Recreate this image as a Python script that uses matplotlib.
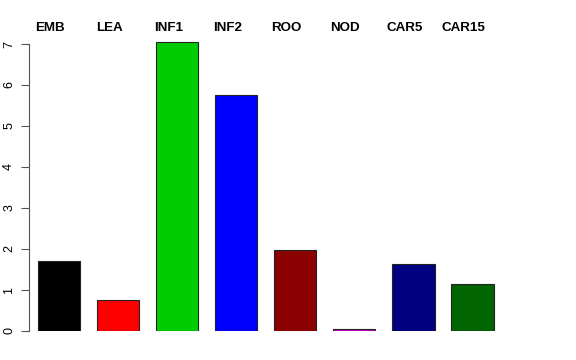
import matplotlib
matplotlib.use("Agg")
import matplotlib.pyplot as plt
import numpy as np

labels = ["EMB", "LEA", "INF1", "INF2", "ROO", "NOD", "CAR5", "CAR15"]
values = [1.71, 0.75, 7.04, 5.76, 1.97, 0.06, 1.64, 1.14]
colors = ["#000000", "#FF0000", "#00CD00", "#0000FF", "#8B0000", "#CD00CD", "#000080", "#006400"]

W, H = 576, 360
fig = plt.figure(figsize=(W / 100, H / 100), dpi=100)

# pixel layout (R barplot look)
px_left, px_right, px_bottom, px_top = 29, 547, 331, 30
ax = fig.add_axes([px_left / W, (H - px_bottom) / H,
                   (px_right - px_left) / W, (px_bottom - px_top) / H])

x = np.arange(len(values)) * 1.4 + 0.9
ax.bar(x, values, width=1.0, color=colors, edgecolor="#222222", linewidth=0.8)

# x mapping: pixel 21 -> 0, 42.2 px per unit
ppu = 42.2
ax.set_xlim((px_left - 21) / ppu, (px_right - 21) / ppu)
ax.set_ylim(0, (px_bottom - px_top) / 41.0)

# labels sit a little left of the bar centres
for xi, lab in zip(x, labels):
    ax.text(xi - 9 / ppu, 7.38, lab, ha="center", va="center", fontsize=9.6,
            fontweight="bold", family="Liberation Sans", clip_on=False)

for s in ["top", "right", "bottom"]:
    ax.spines[s].set_visible(False)
ax.spines["left"].set_bounds(0, 7)
ax.spines["left"].set_color("#555555")
ax.spines["left"].set_linewidth(0.8)
ax.set_xticks([])
ax.set_yticks(range(8))
ax.tick_params(axis="y", length=6, width=0.8, color="#555555", pad=4)
for t in ax.get_yticklabels():
    t.set_rotation(90)
    t.set_va("center")
    t.set_fontsize(9)
    t.set_family("Liberation Sans")

fig.savefig("out.png", dpi=100)
